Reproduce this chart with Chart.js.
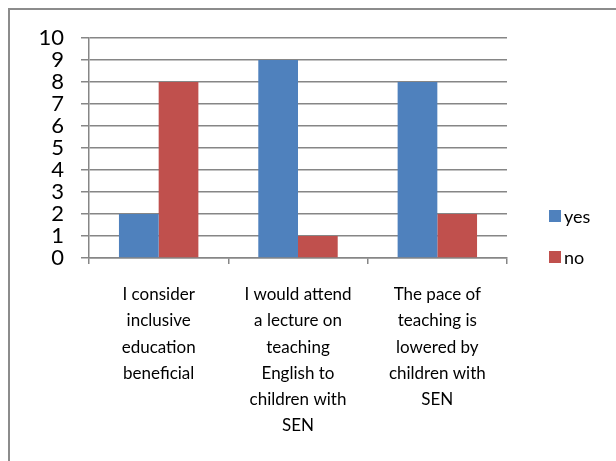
<!DOCTYPE html>
<html>
<head>
<meta charset="utf-8">
<script src="https://cdn.jsdelivr.net/npm/chart.js@4/dist/chart.umd.min.js"></script>
<style>
  html, body { margin: 0; padding: 0; background: #fff; }
  #wrap { width: 616px; height: 461px; position: relative; }
</style>
</head>
<body>
<div id="wrap"><canvas id="chart" width="616" height="461"></canvas></div>
<script>
const categories = [
  ["I consider", "inclusive", "education", "beneficial"],
  ["I would attend", "a lecture on", "teaching", "English to", "children with", "SEN"],
  ["The pace of", "teaching is", "lowered by", "children with", "SEN"]
];
const seriesNames = ["yes", "no"];
const yesValues = [2, 9, 8];
const noValues = [8, 1, 2];
const yTicks = [0, 1, 2, 3, 4, 5, 6, 7, 8, 9, 10];

const BLUE = "#4F81BD";
const RED = "#C0504D";
const GRID = "#868686";
const FONT = "Lato, 'Open Sans', sans-serif";

// frame round the chart (clipped at right and bottom like the original)
const framePlugin = {
  id: "frame",
  beforeDraw(chart) {
    const c = chart.ctx;
    c.save();
    c.fillStyle = "#fff";
    c.fillRect(0, 0, chart.width, chart.height);
    c.strokeStyle = "#8c8c8c";
    c.lineWidth = 2;
    c.strokeRect(9, 9, chart.width + 20, chart.height + 20);
    c.restore();
  }
};

// legend to the right of the plot
const sideLegend = {
  id: "sideLegend",
  afterDraw(chart) {
    const c = chart.ctx;
    const rows = [216, 257];
    c.save();
    c.font = "18px " + FONT;
    c.textBaseline = "middle";
    chart.data.datasets.forEach((ds, i) => {
      c.fillStyle = ds.backgroundColor;
      c.fillRect(549, rows[i] - 6, 12, 12);
      c.fillStyle = "#000";
      c.fillText(ds.label, 564, rows[i] + 1);
    });
    c.restore();
  }
};

new Chart(document.getElementById("chart"), {
  type: "bar",
  data: {
    labels: categories,
    datasets: [
      { label: seriesNames[0], data: yesValues, backgroundColor: BLUE },
      { label: seriesNames[1], data: noValues, backgroundColor: RED }
    ]
  },
  options: {
    responsive: false,
    animation: false,
    layout: { padding: { left: 0, top: 38, right: 109, bottom: 0 } },
    datasets: {
      bar: { categoryPercentage: 0.57, barPercentage: 1.0 }
    },
    plugins: {
      legend: { display: false },
      tooltip: { enabled: false }
    },
    scales: {
      x: {
        grid: {
          display: true,
          drawOnChartArea: false,
          offset: true,
          tickLength: 6,
          color: GRID,
          lineWidth: 1.5
        },
        border: { color: GRID, width: 1.5 },
        ticks: {
          color: "#000",
          maxRotation: 0,
          autoSkip: false,
          padding: 18,
          font: { family: FONT, size: 17, lineHeight: 1.53 }
        },
        afterFit(scale) { scale.height = 203; }
      },
      y: {
        min: 0,
        max: 10,
        afterBuildTicks(scale) { scale.ticks = yTicks.map(v => ({ value: v })); },
        grid: { color: GRID, lineWidth: 1.5, tickLength: 8 },
        border: { color: GRID, width: 1.5 },
        ticks: {
          color: "#000",
          autoSkip: false,
          stepSize: 1,
          padding: 17,
          font: { family: FONT, size: 22, lineHeight: 1 }
        },
        afterFit(scale) { scale.width = 89; }
      }
    }
  },
  plugins: [framePlugin, sideLegend]
});
</script>
</body>
</html>
